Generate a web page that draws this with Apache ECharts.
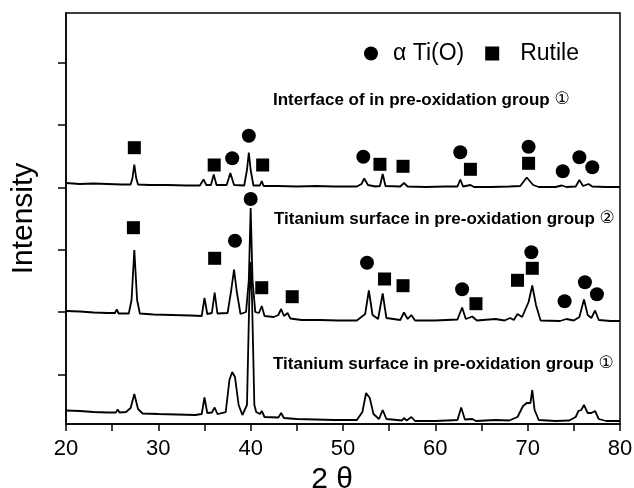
<!DOCTYPE html>
<html>
<head>
<meta charset="utf-8">
<script src="https://cdn.jsdelivr.net/npm/echarts@6/dist/echarts.min.js"></script>
<style>html,body{margin:0;padding:0;background:#fff}#c{width:634px;height:488px}</style>
</head>
<body>
<div id="c"></div>
<script>
// ---- data (2θ in degrees, intensity in arbitrary stacked units) ----
const topAngles = [20,21.5,23,24.5,26,27,27.2,27.4,27.6,27.8,29,31,33,34.5,34.9,35.2,35.7,36.0,36.3,37.4,37.8,38.2,39.3,39.6,39.8,40.0,40.3,41.0,41.2,41.4,43,45,47,49,51.5,52.0,52.3,52.7,53.5,54.0,54.3,54.6,56.2,56.6,57.0,59,61,62.4,62.7,63.0,63.8,64.2,66,68,69.2,69.9,70.6,71.2,73,73.7,74.2,75.2,75.6,76.0,76.6,77.0,78.5,80];
const topIntensity = [241,240,240.5,240,239.5,239.5,246,259.5,246,239.5,239,239,238.5,238.5,244.5,239,239,249.5,239,239,251,239,238.5,254,271.5,254,238.5,238.5,243,238,238,237.5,238,237.5,237.5,240,245.5,239,237.5,238,250,238,237.5,241,237.5,237,237.5,237.5,244.5,237.5,239,237,237,237.5,238,246.5,239,237,237,238.5,237,237.5,244,238,240,237.5,237,237];

const midAngles = [20,21.5,23,24.5,25.3,25.5,25.7,26.8,27.1,27.4,27.7,28,29.5,31.5,33.5,34.7,35.0,35.3,35.8,36.1,36.4,37.5,37.9,38.2,38.5,38.9,39.5,39.8,40.0,40.2,40.5,40.9,41.2,41.5,42.5,43.0,43.3,43.6,44.0,44.3,45.5,47.5,49.5,51.5,52.4,52.8,53.2,53.8,54.3,54.7,56.2,56.6,57.0,57.4,57.8,60,62.4,62.9,63.3,64.0,64.5,66.5,67.5,68.1,68.5,68.9,69.4,70.1,70.5,70.9,71.4,73.5,74.2,75.0,75.6,76.1,76.5,76.9,77.3,77.7,79,80];
const midIntensity = [113,112.5,111.5,111,111,114.5,110.5,110.5,124,174,124,110.5,109.5,109,108.5,108,126,110,111,131.5,110.5,111,134,154.5,132,110,112,144,216,144,112,111,118,108,107,109,115,108,111,105.5,104,104,103.5,103.5,110,133.5,109,105,130.5,106,104,111.5,105,109,103.5,103.5,104.5,116.5,105,107.5,103.5,105,103.5,106,104,110,107,122,138.5,119,103.5,103,105,103.5,107,124.5,109,106,113.5,104,103,103];

const botAngles = [20,21.5,23,24.5,25.4,25.6,25.8,26.5,27.0,27.4,27.8,28.3,30,32,34,34.7,35.0,35.3,35.8,36.1,36.4,37.3,37.7,38.0,38.3,38.7,39.1,39.6,39.85,40.0,40.15,40.4,40.6,40.8,41.0,41.2,41.5,43.0,43.3,43.6,45,47,49,51.5,52.1,52.5,52.9,53.3,53.9,54.3,54.7,56.4,56.6,56.9,57.4,57.8,60,62.4,62.8,63.2,64.0,64.4,66.5,68.0,68.9,69.5,69.9,70.3,70.5,70.75,71.2,73,74.5,75.2,75.5,75.8,76.1,76.5,76.9,77.3,77.7,78.5,80];
const botIntensity = [13.5,13,12,11.5,11.5,14.5,11.5,12,16,30,15,10.5,10,9.5,9,10,26.5,11,11.5,16.5,10,12,44,52,47,19,9,19,124,162,124,19,12,14,10,13,7,6.5,11,6,5,4.5,4,4,12,31,26,10,5,14,5,3.5,6,3.5,7,3,3,4,16.5,4.5,5,3,4,3.5,7,18,21,21,34,14,4,3,3.5,7,13,14,19,11,11,13,5,3,3];

// phase marker positions (2θ, height)
const tiAngles = [38.0,39.8,52.2,62.7,70.1,73.8,75.6,77.0, 38.3,40.0,52.6,62.9,70.4,74.0,76.2,77.5];
const tiHeights = [265.7,288.3,267.3,271.7,277.3,252.7,266.7,256.7, 183.3,225,161.3,134.7,171.7,122.7,141.7,129.7];
const rutileAngles = [27.4,36.05,41.3,54.0,56.5,63.8,70.1, 27.3,36.1,41.2,44.5,54.5,56.5,64.4,68.9,70.5];
const rutileHeights = [276.3,259,259,259.7,257.7,254.7,260.7, 196.3,165.7,136.3,127.3,145,138.3,120.3,143.7,155.7];

const xTicks = [20,30,40,50,60,70,80];
const yTickValues = [49.7,112,174.3,236.7,299,361];
const labelTexts = ['Interface of in pre-oxidation group ','Titanium surface in pre-oxidation group ','Titanium surface in pre-oxidation group '];
const labelMarks = ['①','②','①'];

const zip = (a,b)=>a.map((v,i)=>[v,b[i]]);
const FONT = '"Liberation Sans", Arial, sans-serif';

const chart = echarts.init(document.getElementById('c'), null, {renderer:'canvas'});
const lineStyle = {color:'#000', width:1.8};
const lineSeries = (name,a,b)=>({name, type:'line', data:zip(a,b), showSymbol:false, symbol:'none', lineStyle, silent:true, z:2, animation:false});

chart.setOption({
  animation:false,
  backgroundColor:'#fff',
  grid:{left:66, right:14, top:13, bottom:64, outerBoundsMode:'none', containLabel:false,
        show:true, borderColor:'#000', borderWidth:1.5, backgroundColor:'transparent'},
  legend:{
    left:359, top:37, itemWidth:14, itemHeight:14, itemGap:21,
    data:[{name:'α Ti(O)', icon:'circle'},
          {name:'Rutile', icon:'rect', textStyle:{padding:[0,0,0,16]}}],
    textStyle:{fontFamily:FONT, fontSize:23, color:'#000', padding:[0,0,0,10]}
  },
  xAxis:{
    type:'value', min:20, max:80, interval:5,
    name:'2 θ', nameLocation:'middle', nameGap:41,
    nameTextStyle:{fontFamily:FONT, fontSize:30, color:'#000', padding:[0,22,0,0]},
    axisLine:{lineStyle:{color:'#000', width:1.5}},
    axisTick:{length:7, lineStyle:{color:'#000', width:1.5}},
    axisLabel:{fontFamily:FONT, fontSize:22, color:'#000', margin:14,
      formatter:v=> xTicks.indexOf(v)>=0 ? String(v) : ''},
    splitLine:{show:false}
  },
  yAxis:{
    type:'value', min:0, max:411,
    name:'Intensity', nameLocation:'middle', nameGap:27,
    nameTextStyle:{fontFamily:FONT, fontSize:30, color:'#000'},
    axisLine:{lineStyle:{color:'#000', width:1.5}},
    axisTick:{length:8, lineStyle:{color:'#000', width:1.5}, customValues:yTickValues},
    axisLabel:{show:false},
    splitLine:{show:false}
  },
  graphic:labelTexts.map((t,i)=>({
    type:'text', x:[273,274,273][i], y:[100,219,364][i],
    style:{text:'{b|'+t+'}{c|'+labelMarks[i]+'}', verticalAlign:'middle',
      rich:{
        b:{fontFamily:FONT, fontWeight:'bold', fontSize:17, fill:'#000', color:'#000'},
        c:{fontFamily:'"DejaVu Sans", sans-serif', fontWeight:'normal', fontSize:17, fill:'#000', color:'#000'}
      }}
  })),
  series:[
    lineSeries('top', topAngles, topIntensity),
    lineSeries('mid', midAngles, midIntensity),
    lineSeries('bot', botAngles, botIntensity),
    {name:'α Ti(O)', type:'scatter', symbol:'circle', symbolSize:14, itemStyle:{color:'#000', opacity:1}, data:zip(tiAngles,tiHeights), z:3},
    {name:'Rutile', type:'scatter', symbol:'rect', symbolSize:13, itemStyle:{color:'#000', opacity:1}, data:zip(rutileAngles,rutileHeights), z:3}
  ]
});
</script>
</body>
</html>
